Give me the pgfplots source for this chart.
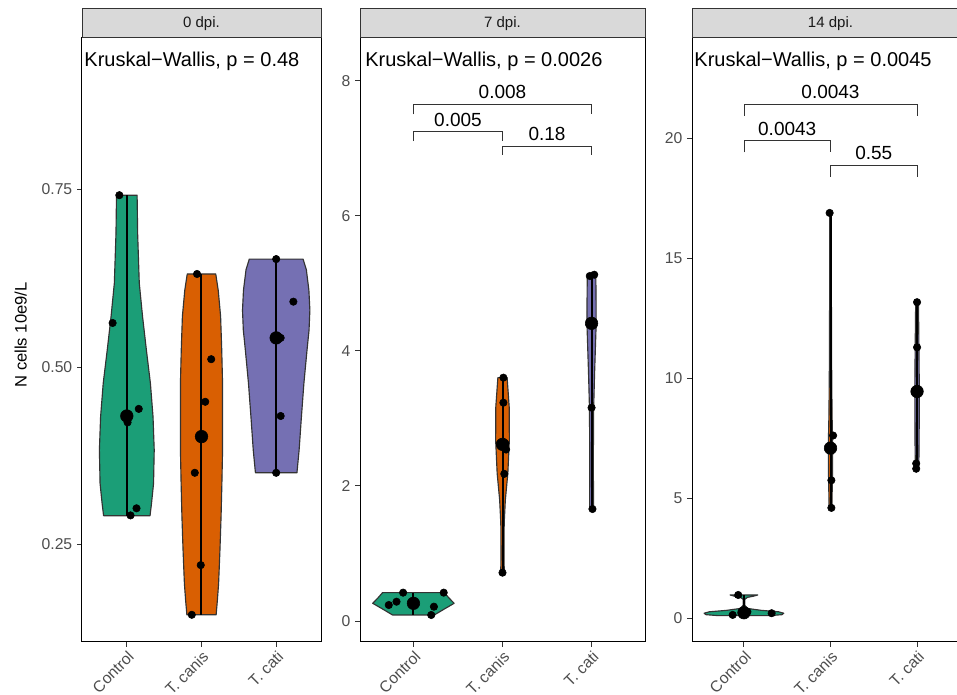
\documentclass[border=0pt]{standalone}
\usepackage{fontspec}
\setmainfont{Liberation Sans}
\usepackage{pgfplots}
\pgfplotsset{compat=1.18}
\definecolor{cA}{HTML}{1B9E77}
\definecolor{cB}{HTML}{D95F02}
\definecolor{cC}{HTML}{7570B3}
\definecolor{gtick}{HTML}{4D4D4D}
\definecolor{gline}{HTML}{333333}
\definecolor{gstrip}{HTML}{D9D9D9}
\pgfplotsset{
  panel/.style={
    scale only axis, height=422.8pt, xmin=0.4, xmax=3.6,
    anchor=south west, clip=false,
    axis line style={black, line width=0.7pt},
    xtick={1,2,3}, xticklabels={Control, T. canis, T. cati},
    tick align=outside, tick pos=left, major tick length=3.3pt,
    every tick/.style={gline, line width=0.7pt},
    xticklabel style={rotate=45, anchor=north east, font=\fontsize{11}{12}\selectfont, text=gtick, inner sep=1.5pt},
    yticklabel style={font=\fontsize{11}{12}\selectfont, text=gtick},
    /pgf/number format/assume math mode=true,
  },
  vio/.style={draw=gline, line width=0.8pt, line join=round},
  rng/.style={black, line width=1.4pt, no marks},
  pts/.style={only marks, mark=*, mark size=2.6pt, black, mark options={fill=black, draw=black}},
  med/.style={only marks, mark=*, mark size=4.4pt, black, mark options={fill=black, draw=black}},
  brk/.style={gline, line width=0.6pt, no marks},
}
\tikzset{
  kw/.style={anchor=west, font=\fontsize{14}{16}\selectfont, inner sep=0pt, xshift=1.5pt},
  bl/.style={anchor=base, font=\fontsize{13.3}{15}\selectfont, inner sep=0pt, yshift=3.8pt},
}
\begin{document}
\begin{tikzpicture}
% ---------------- Panel 1: 0 dpi ----------------
\begin{axis}[panel, at={(57.4pt,37.1pt)}, width=167.3pt,
  ymin=0.1127, ymax=0.9634, ytick={0.25,0.5,0.75},
  yticklabel style={/pgf/number format/fixed, /pgf/number format/fixed zerofill, /pgf/number format/precision=2}]
\addplot[vio, fill=cA] coordinates {(1.311,0.2906) (1.331,0.308) (1.358,0.336) (1.367,0.383) (1.351,0.430) (1.316,0.477) (1.262,0.524) (1.211,0.571) (1.167,0.618) (1.145,0.688) (1.138,0.742)
 (0.862,0.742) (0.855,0.688) (0.833,0.618) (0.789,0.571) (0.738,0.524) (0.684,0.477) (0.649,0.430) (0.633,0.383) (0.642,0.336) (0.669,0.308) (0.689,0.2906)} --cycle;
\addplot[vio, fill=cB] coordinates {(2.196,0.151) (2.213,0.172) (2.229,0.195) (2.247,0.242) (2.262,0.289) (2.273,0.336) (2.282,0.383) (2.282,0.430) (2.282,0.477) (2.271,0.524) (2.256,0.571) (2.224,0.608) (2.191,0.631)
 (1.809,0.631) (1.776,0.608) (1.744,0.571) (1.729,0.524) (1.718,0.477) (1.718,0.430) (1.718,0.383) (1.727,0.336) (1.738,0.289) (1.753,0.242) (1.771,0.195) (1.787,0.172) (1.804,0.151)} --cycle;
\addplot[vio, fill=cC] coordinates {(3.278,0.351) (3.307,0.383) (3.338,0.430) (3.371,0.477) (3.413,0.524) (3.440,0.552) (3.451,0.580) (3.438,0.608) (3.404,0.637) (3.360,0.652)
 (2.640,0.652) (2.596,0.637) (2.562,0.608) (2.549,0.580) (2.560,0.552) (2.587,0.524) (2.629,0.477) (2.662,0.430) (2.693,0.383) (2.722,0.351)} --cycle;
\addplot[rng] coordinates {(1,0.2906) (1,0.742)};
\addplot[rng] coordinates {(2,0.151) (2,0.631)};
\addplot[rng] coordinates {(3,0.351) (3,0.652)};
\addplot[pts] coordinates {(0.90,0.742) (0.81,0.562) (1.16,0.441) (1.01,0.422) (1.13,0.301) (1.05,0.291) (1.0,0.43)
 (1.94,0.631) (2.13,0.511) (2.05,0.451) (1.91,0.351) (1.99,0.221) (1.87,0.151) (2.0,0.40)
 (3.0,0.652) (3.23,0.592) (3.06,0.541) (3.06,0.431) (3.0,0.351)};
\addplot[med] coordinates {(1,0.431) (2,0.402) (3,0.541)};
\node[kw] at (rel axis cs:0,0.962) {Kruskal−Wallis, p = 0.48};
\end{axis}
% ---------------- Panel 2: 7 dpi ----------------
\begin{axis}[panel, at={(252pt,37.1pt)}, width=199.5pt,
  ymin=-0.311, ymax=8.637, ytick={0,2,4,6,8}]
\addplot[vio, fill=cA] coordinates {(1.234,0.089) (1.35,0.18) (1.457,0.262) (1.40,0.34) (1.347,0.42)
 (0.653,0.42) (0.60,0.34) (0.543,0.262) (0.65,0.18) (0.766,0.089)} --cycle;
\addplot[vio, fill=cB] coordinates {(2.02,0.716) (2.017,0.953) (2.019,1.447) (2.032,1.793) (2.06,2.188) (2.077,2.681) (2.075,3.175) (2.052,3.605)
 (1.948,3.605) (1.925,3.175) (1.923,2.681) (1.94,2.188) (1.968,1.793) (1.981,1.447) (1.983,0.953) (1.98,0.716)} --cycle;
\addplot[vio, fill=cC] coordinates {(3.022,1.659) (3.02,2.434) (3.024,3.175) (3.034,3.67) (3.052,4.41) (3.05,4.9) (3.047,5.126)
 (2.953,5.126) (2.95,4.9) (2.948,4.41) (2.966,3.67) (2.976,3.175) (2.98,2.434) (2.978,1.659)} --cycle;
\addplot[rng] coordinates {(1,0.089) (1,0.42)};
\addplot[rng] coordinates {(2,0.716) (2,3.605)};
\addplot[rng] coordinates {(3,1.659) (3,5.126)};
\addplot[pts] coordinates {(0.884,0.42) (1.34,0.42) (0.723,0.237) (0.81,0.286) (1.23,0.212) (1.20,0.089) (1.0,0.262)
 (2.01,3.605) (2.01,3.234) (2.03,2.63) (2.04,2.54) (2.02,2.18) (2.0,0.716) (2.0,2.617)
 (2.98,5.111) (3.03,5.13) (3.0,4.41) (3.0,3.16) (3.01,1.659)};
\addplot[med] coordinates {(1,0.262) (2,2.617) (3,4.41)};
\addplot[brk] coordinates {(1,7.507) (1,7.655) (3,7.655) (3,7.507)};
\addplot[brk] coordinates {(1,7.111) (1,7.249) (2,7.249) (2,7.111)};
\addplot[brk] coordinates {(2,6.904) (2,7.037) (3,7.037) (3,6.904)};
\node[bl] at (axis cs:2,7.655) {0.008};
\node[bl] at (axis cs:1.5,7.249) {0.005};
\node[bl] at (axis cs:2.5,7.037) {0.18};
\node[kw, xshift=2pt] at (rel axis cs:0,0.962) {Kruskal−Wallis, p = 0.0026};
\end{axis}
% ---------------- Panel 3: 14 dpi ----------------
\begin{axis}[panel, at={(484.4pt,37.1pt)}, width=193.9pt,
  ymin=-0.979, ymax=24.19, ytick={0,5,10,15,20}]
\addplot[vio, fill=cA] coordinates {(1.30,0.12) (1.44,0.16) (1.46,0.22) (1.40,0.28) (1.20,0.34) (1.04,0.42) (1.01,0.55) (1.01,0.80) (1.04,0.88) (1.11,0.93) (1.16,0.98)
 (0.84,0.98) (0.89,0.93) (0.96,0.88) (0.99,0.80) (0.99,0.55) (0.96,0.42) (0.80,0.34) (0.60,0.28) (0.54,0.22) (0.56,0.16) (0.70,0.12)} --cycle;
\addplot[vio, fill=cB] coordinates {(2.016,4.61) (2.022,5.8) (2.026,7.1) (2.018,8.5) (2.012,11) (2.01,14) (2.01,16.9)
 (1.99,16.9) (1.99,14) (1.988,11) (1.982,8.5) (1.974,7.1) (1.978,5.8) (1.984,4.61)} --cycle;
\addplot[vio, fill=cC] coordinates {(3.02,6.24) (3.024,7.5) (3.026,9.46) (3.022,11.3) (3.016,13.18)
 (2.984,13.18) (2.978,11.3) (2.974,9.46) (2.976,7.5) (2.98,6.24)} --cycle;
\addplot[rng] coordinates {(1,0.14) (1,0.98)};
\addplot[rng] coordinates {(2,4.61) (2,16.9)};
\addplot[rng] coordinates {(3,6.24) (3,13.18)};
\addplot[pts] coordinates {(0.934,0.98) (0.87,0.15) (0.99,0.18) (1.32,0.22) (1.04,0.28) (1.0,0.24)
 (1.99,16.9) (2.03,7.625) (2.01,5.76) (2.01,4.61) (2.0,7.10)
 (3.0,13.18) (3.0,11.30) (2.99,6.46) (2.99,6.24) (3.0,9.46)};
\addplot[med] coordinates {(1,0.24) (2,7.10) (3,9.46)};
\addplot[brk] coordinates {(1,20.94) (1,21.425) (3,21.425) (3,20.94)};
\addplot[brk] coordinates {(1,19.42) (1,19.91) (2,19.91) (2,19.42)};
\addplot[brk] coordinates {(2,18.41) (2,18.88) (3,18.88) (3,18.41)};
\node[bl] at (axis cs:2,21.425) {0.0043};
\node[bl] at (axis cs:1.5,19.91) {0.0043};
\node[bl] at (axis cs:2.5,18.88) {0.55};
\node[kw] at (rel axis cs:0,0.962) {Kruskal−Wallis, p = 0.0045};
\end{axis}
% ---------------- strips ----------------
\begin{scope}[every node/.style={font=\fontsize{10.5}{12}\selectfont, text=black!90}]
\draw[fill=gstrip, draw=gline, line width=0.7pt] (57.4pt,459.9pt) rectangle (224.7pt,480.2pt);
\node at (141.05pt,470.05pt) {0 dpi.};
\draw[fill=gstrip, draw=gline, line width=0.7pt] (252pt,459.9pt) rectangle (451.5pt,480.2pt);
\node at (351.75pt,470.05pt) {7 dpi.};
\draw[fill=gstrip, draw=gline, line width=0.7pt] (484.4pt,459.9pt) rectangle (678.3pt,480.2pt);
\node at (581.35pt,470.05pt) {14 dpi.};
\end{scope}
\node[rotate=90, font=\fontsize{11.6}{13}\selectfont] at (14.5pt,252pt) {N cells 10e9/L};
\pgfresetboundingbox
\path[use as bounding box] (0pt,0pt) rectangle (669.9pt,486.5pt);
\end{tikzpicture}
\end{document}
